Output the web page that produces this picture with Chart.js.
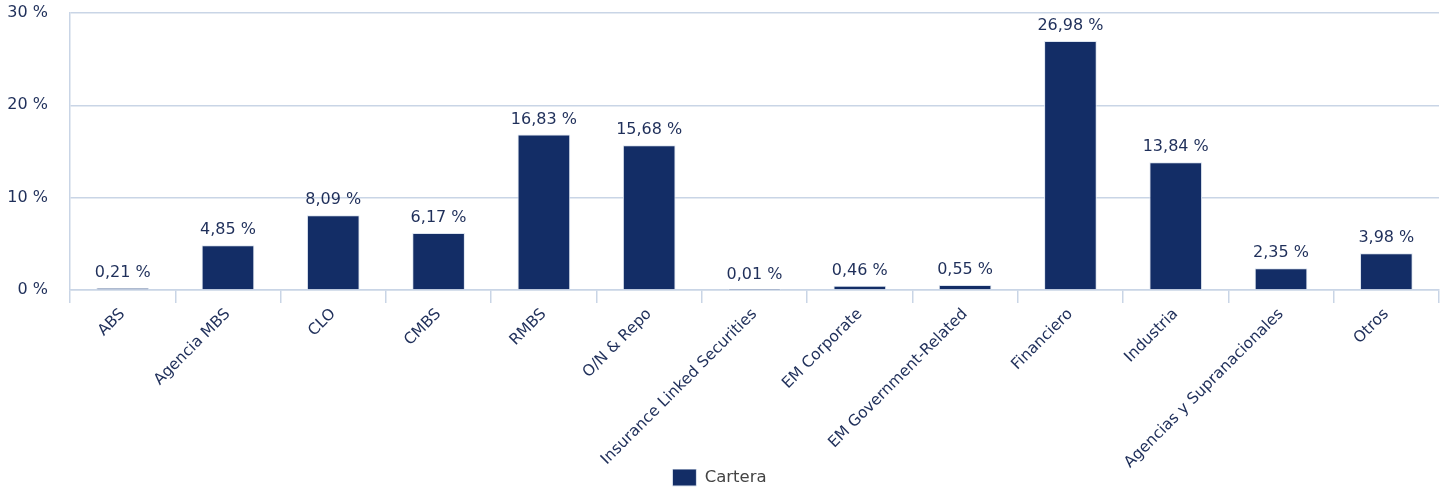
<!DOCTYPE html>
<html>
<head>
<meta charset="utf-8">
<script src="https://cdn.jsdelivr.net/npm/chart.js@4/dist/chart.umd.min.js"></script>
<style>
  html, body { margin: 0; padding: 0; background: #fff; }
  #wrap { width: 1447px; height: 491px; position: relative; }
</style>
</head>
<body>
<div id="wrap"><canvas id="chart"></canvas></div>
<script>
// datos de la cartera
var categories = ['ABS', 'Agencia MBS', 'CLO', 'CMBS', 'RMBS', 'O/N & Repo', 'Insurance Linked Securities',
    'EM Corporate', 'EM Government-Related', 'Financiero', 'Industria', 'Agencias y Supranacionales', 'Otros'];
var cartera = [0.21, 4.85, 8.09, 6.17, 16.83, 15.68, 0.01, 0.46, 0.55, 26.98, 13.84, 2.35, 3.98];
var yTicks = [0, 10, 20, 30];

var navy = '#132d66';
var textColor = '#1f2f5a';
var gridColor = '#c9d5e6';
var fontFamily = '"DejaVu Sans", Verdana, sans-serif';

function fmt(v) {
    return v.toFixed(2).replace('.', ',') + ' %';
}

// etiquetas encima de cada barra
var valueLabels = {
    id: 'valueLabels',
    afterDatasetsDraw: function(chart) {
        var ctx = chart.ctx;
        var meta = chart.getDatasetMeta(0);
        ctx.save();
        ctx.font = '16px ' + fontFamily;
        ctx.fillStyle = textColor;
        ctx.textAlign = 'center';
        ctx.textBaseline = 'alphabetic';
        meta.data.forEach(function(bar, i) {
            ctx.fillText(fmt(cartera[i]), bar.x, bar.y - 11);
        });
        ctx.restore();
    }
};

new Chart(document.getElementById('chart').getContext('2d'), {
    type: 'bar',
    data: {
        labels: categories,
        datasets: [{
            label: 'Cartera',
            data: cartera,
            backgroundColor: navy,
            borderColor: '#dce4ef',
            borderWidth: 1,
            barPercentage: 0.5,
            categoryPercentage: 1
        }]
    },
    options: {
        responsive: true,
        maintainAspectRatio: false,
        animation: false,
        layout: { padding: { top: 0, right: 8, left: 0, bottom: -5 } },
        plugins: {
            legend: {
                position: 'bottom',
                labels: {
                    boxWidth: 24,
                    boxHeight: 17,
                    padding: 0,
                    color: '#444',
                    font: { family: fontFamily, size: 16.5 }
                }
            },
            tooltip: { enabled: false }
        },
        scales: {
            x: {
                afterFit: function(s) { s.height = 179; },
                grid: {
                    drawOnChartArea: false,
                    drawTicks: true,
                    tickLength: 13,
                    color: gridColor,
                    lineWidth: 1.5
                },
                border: { color: gridColor, width: 1.5 },
                ticks: {
                    color: textColor,
                    font: { family: fontFamily, size: 15.5 },
                    minRotation: 45,
                    maxRotation: 45,
                    autoSkip: false,
                    padding: 2
                }
            },
            y: {
                min: 0,
                max: 30,
                afterBuildTicks: function(s) {
                    s.ticks = yTicks.map(function(v) { return { value: v }; });
                },
                afterFit: function(s) {
                    s.width = 70;
                    s.paddingTop = 13;
                    s.paddingBottom = 0;
                },
                grid: { color: gridColor, lineWidth: 1.5, drawTicks: false },
                border: { color: gridColor, width: 1.5 },
                ticks: {
                    color: textColor,
                    font: { family: fontFamily, size: 16 },
                    padding: 22,
                    callback: function(v) { return v + ' %'; }
                }
            }
        }
    },
    plugins: [valueLabels]
});
</script>
</body>
</html>
